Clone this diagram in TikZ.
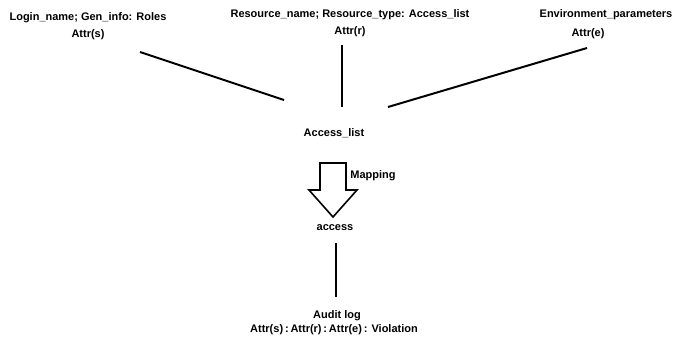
\documentclass[tikz,border=0pt]{standalone}
\usepackage{fontspec}
\setmainfont{Liberation Sans}
\usetikzlibrary{positioning}

\begin{document}
\begin{tikzpicture}[
  x=1pt, y=-1pt,
  lbl/.style={font=\fontsize{11}{13}\selectfont\bfseries, inner sep=0pt, align=center},
  link/.style={line width=2pt, black}
]
  \useasboundingbox (0,0) rectangle (674,339);

  % attribute sources
  \node[lbl] (subj) at (88,18) {Login\_name; Gen\_info: Roles};
  \node[lbl] (subjattr) at (88,35) {Attr(s)};
  \node[lbl] (res) at (350,15) {Resource\_name; Resource\_type: Access\_list};
  \node[lbl] (resattr) at (350,32) {Attr(r)};
  \node[lbl] (env) at (606,15) {Environment\_parameters};
  \node[lbl] (envattr) at (588,34) {Attr(e)};

  \node[lbl] (acl) at (334,133) {Access\_list};
  \node[lbl] (acc) at (335,228) {access};
  \node[lbl] (audit) at (337,316) {Audit log};
  \node[lbl] (auditattr) at (334,330) {Attr(s)\,:\,Attr(r)\,:\,Attr(e)\,: Violation};

  % line ends
  \coordinate (s1) at (140,52);
  \coordinate (s2) at (284,100);
  \coordinate (r1) at (342,45);
  \coordinate (r2) at (342,107);
  \coordinate (e1) at (587,48);
  \coordinate (e2) at (388,107);
  \coordinate (a1) at (336,243);
  \coordinate (a2) at (336,297);

  \draw[link] (s1) -- (s2);
  \draw[link] (r1) -- (r2);
  \draw[link] (e1) -- (e2);
  \draw[link] (a1) -- (a2);

  % mapping arrow
  \draw[line width=1.6pt, fill=white]
    (320,163) -- (346,163) -- (346,190) -- (357,190) -- (333,217)
    -- (309,190) -- (320,190) -- cycle;
  \node[lbl] (map) at (373,176) {Mapping};
\end{tikzpicture}
\end{document}
